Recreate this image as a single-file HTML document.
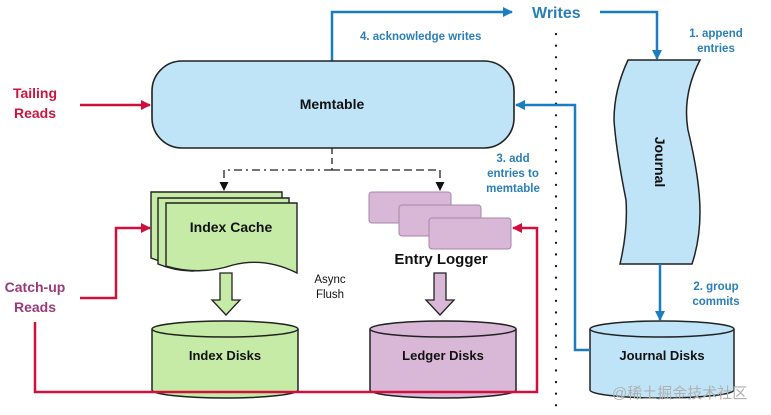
<!DOCTYPE html>
<html><head><meta charset="utf-8"><style>
html,body{margin:0;padding:0;background:#fff;}
svg{display:block;font-family:"Liberation Sans","Noto Sans CJK SC",sans-serif;font-weight:bold;}
</style></head><body>
<svg width="771" height="415" viewBox="0 0 771 415" xmlns="http://www.w3.org/2000/svg">
<defs>
<marker id="ab" markerWidth="10" markerHeight="10" refX="9" refY="5" orient="auto" markerUnits="userSpaceOnUse"><path d="M0,0 L10,5 L0,10 z" fill="#1a7cc1"/></marker>
<marker id="ar" markerWidth="10" markerHeight="10" refX="9" refY="5" orient="auto" markerUnits="userSpaceOnUse"><path d="M0,0 L10,5 L0,10 z" fill="#d0103a"/></marker>
<marker id="ak" markerWidth="9" markerHeight="9" refX="8" refY="4.5" orient="auto" markerUnits="userSpaceOnUse"><path d="M0,0 L9,4.5 L0,9 z" fill="#111"/></marker>
</defs>

<!-- blue top connectors -->
<polyline points="332,61 332,12 512,12" fill="none" stroke="#1a7cc1" stroke-width="2.5" marker-end="url(#ab)"/>
<text x="532" y="18" font-size="16" fill="#2a7fb8">Writes</text>
<polyline points="600,12 657,12 657,59" fill="none" stroke="#1a7cc1" stroke-width="2.5" marker-end="url(#ab)"/>
<text x="360" y="40" font-size="11.5" fill="#2a7fb8">4. acknowledge writes</text>
<text x="716" y="37" font-size="11.5" fill="#2a7fb8" text-anchor="middle">1. append</text>
<text x="716" y="52" font-size="11.5" fill="#2a7fb8" text-anchor="middle">entries</text>

<!-- dotted divider -->
<line x1="556" y1="34" x2="556" y2="415" stroke="#111" stroke-width="2.2" stroke-dasharray="0.1,11.5" stroke-linecap="round"/>

<!-- Memtable -->
<rect x="152" y="61" width="362" height="87" rx="30" fill="#bfe4f8" stroke="#222" stroke-width="1.6"/>
<text x="332" y="109" font-size="14" fill="#111" text-anchor="middle">Memtable</text>

<!-- Tailing reads -->
<text x="35" y="98" font-size="14" fill="#c8163f" text-anchor="middle">Tailing</text>
<text x="35" y="118" font-size="14" fill="#c8163f" text-anchor="middle">Reads</text>
<line x1="80" y1="105" x2="150" y2="105" stroke="#d0103a" stroke-width="2.5" marker-end="url(#ar)"/>

<!-- dashed from memtable -->
<line x1="332" y1="148" x2="332" y2="170" stroke="#222" stroke-width="1.3" stroke-dasharray="6,4"/>
<polyline points="332,170 224,170 224,190" fill="none" stroke="#222" stroke-width="1.3" stroke-dasharray="8,4,2,4" marker-end="url(#ak)"/>
<polyline points="332,170 440,170 440,190" fill="none" stroke="#222" stroke-width="1.3" stroke-dasharray="8,4" marker-end="url(#ak)"/>

<!-- Index cache documents -->
<path d="M151,192 H282 V255 Q250,245 220,258 Q185,272 151,258 Z" fill="#c6eba6" stroke="#222" stroke-width="1.4"/>
<path d="M158,198 H289 V262 Q257,252 227,264 Q192,278 158,264 Z" fill="#c6eba6" stroke="#222" stroke-width="1.4"/>
<path d="M166,203 H297 V273 Q265,257 233,265 Q200,276 166,266 Z" fill="#c6eba6" stroke="#222" stroke-width="1.4"/>
<text x="231" y="232" font-size="14" fill="#111" text-anchor="middle">Index Cache</text>

<!-- Entry logger cards -->
<g fill="#d8b8d6" stroke="#a985a8" stroke-width="1">
<rect x="369" y="192" width="82" height="31" rx="3"/>
<rect x="399" y="205" width="82" height="31" rx="3"/>
<rect x="429" y="218" width="82" height="31" rx="3"/>
</g>
<text x="441" y="264" font-size="15" fill="#111" text-anchor="middle">Entry Logger</text>

<!-- hollow arrows -->
<path d="M220,273 H232 V300 H240 L226,315 L212,300 H220 Z" fill="#c6eba6" stroke="#222" stroke-width="1.3"/>
<path d="M434,273 H446 V300 H454 L440,315 L426,300 H434 Z" fill="#d8b8d6" stroke="#222" stroke-width="1.3"/>
<text x="330" y="283" font-size="11.5" fill="#111" text-anchor="middle" font-weight="normal">Async</text>
<text x="330" y="298" font-size="11.5" fill="#111" text-anchor="middle" font-weight="normal">Flush</text>

<!-- cylinders -->
<g stroke="#222" stroke-width="1.5">
<path d="M152,329 V390 A73,8 0 0 0 298,390 V329" fill="#c6eba6"/>
<ellipse cx="225" cy="329" rx="73" ry="8" fill="#c6eba6"/>
<path d="M370,329 V390 A73,8 0 0 0 516,390 V329" fill="#d8b8d6"/>
<ellipse cx="443" cy="329" rx="73" ry="8" fill="#d8b8d6"/>
<path d="M590,329 V390 A72,8 0 0 0 734,390 V329" fill="#bfe4f8"/>
<ellipse cx="662" cy="329" rx="72" ry="8" fill="#bfe4f8"/>
</g>
<text x="225" y="360" font-size="13" fill="#111" text-anchor="middle">Index Disks</text>
<text x="443" y="360" font-size="13" fill="#111" text-anchor="middle">Ledger Disks</text>
<text x="662" y="360" font-size="13" fill="#111" text-anchor="middle">Journal Disks</text>

<!-- Journal wavy -->
<path d="M628,60 H700 Q682,95 688,130 Q700,180 700,212 Q700,240 692,264 H620 Q628,230 626,200 Q616,150 614,120 Q614,90 628,60 Z" fill="#bfe4f8" stroke="#222" stroke-width="1.5"/>
<text x="0" y="0" font-size="14" fill="#111" text-anchor="middle" transform="translate(655,162) rotate(90)">Journal</text>

<!-- group commits -->
<line x1="660" y1="264" x2="660" y2="320" stroke="#1a7cc1" stroke-width="2.5" marker-end="url(#ab)"/>
<text x="716" y="290" font-size="11.5" fill="#2a7fb8" text-anchor="middle">2. group</text>
<text x="716" y="305" font-size="11.5" fill="#2a7fb8" text-anchor="middle">commits</text>

<!-- add entries to memtable -->
<polyline points="590,350 575,350 575,105 516,105" fill="none" stroke="#1a7cc1" stroke-width="2.5" marker-end="url(#ab)"/>
<text x="513" y="162" font-size="11.5" fill="#2a7fb8" text-anchor="middle">3. add</text>
<text x="513" y="177" font-size="11.5" fill="#2a7fb8" text-anchor="middle">entries to</text>
<text x="513" y="192" font-size="11.5" fill="#2a7fb8" text-anchor="middle">memtable</text>

<!-- Catch-up reads -->
<text x="35" y="292" font-size="14" fill="#9a3a7a" text-anchor="middle">Catch-up</text>
<text x="35" y="312" font-size="14" fill="#9a3a7a" text-anchor="middle">Reads</text>
<polyline points="80,298 116,298 116,228 150,228" fill="none" stroke="#d0103a" stroke-width="2.5" marker-end="url(#ar)"/>
<polyline points="35,322 35,392 537,392 537,228 513,228" fill="none" stroke="#d0103a" stroke-width="2.5" marker-end="url(#ar)"/>

<text x="612" y="398" font-size="15" fill="#b0b0b0" font-weight="normal">@稀土掘金技术社区</text>
</svg>
</body></html>
